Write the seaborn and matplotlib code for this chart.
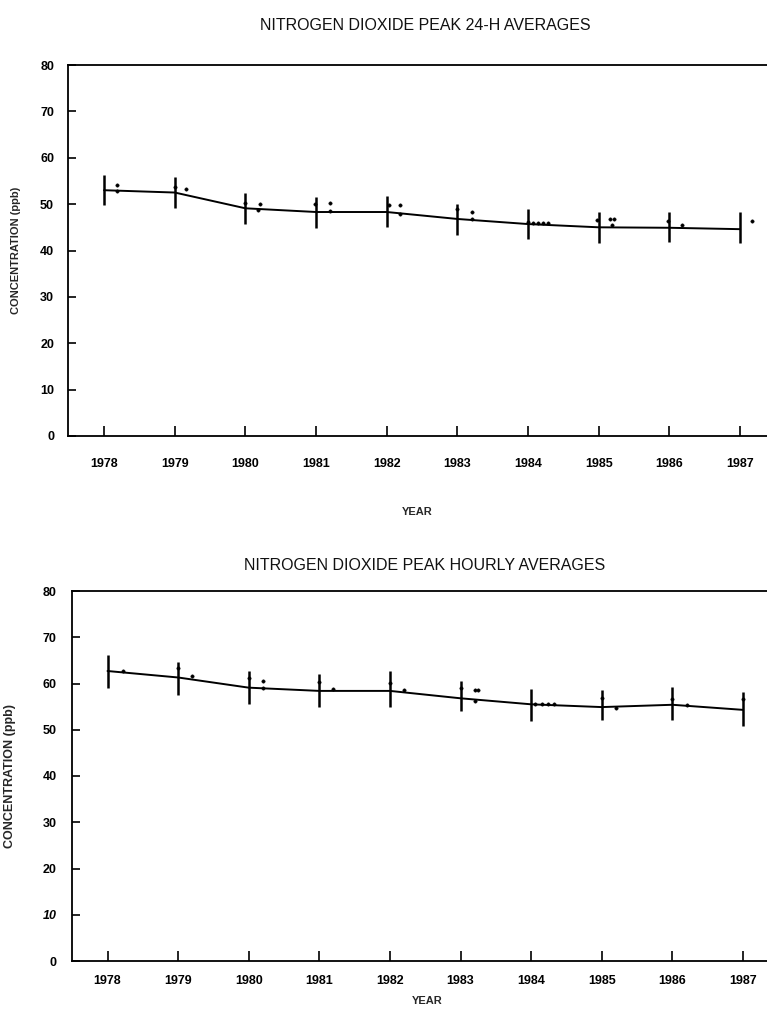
import matplotlib
matplotlib.use("Agg")
import matplotlib.pyplot as plt
import seaborn as sns
import pandas as pd

# ---------------- data ----------------
years = [1978, 1979, 1980, 1981, 1982, 1983, 1984, 1985, 1986, 1987]
year_labels = [str(y) for y in years]
y_ticks = [0, 10, 20, 30, 40, 50, 60, 70, 80]

# Peak 24-h averages
trend_24h = [53.0, 52.5, 49.1, 48.3, 48.3, 46.8, 45.7, 45.0, 44.9, 44.6]
low_24h = [49.8, 49.1, 45.7, 44.8, 45.0, 43.3, 42.4, 41.7, 41.9, 41.6]
high_24h = [56.3, 55.9, 52.3, 51.5, 51.7, 50.0, 48.9, 48.2, 48.4, 48.2]
pts_24h_x = [1978.18, 1978.18, 1979.0, 1979.16, 1980.0, 1980.2, 1980.18,
             1980.98, 1981.2, 1981.2, 1982.03, 1982.19, 1982.19,
             1983.0, 1983.2, 1983.2, 1984.0, 1984.07, 1984.14, 1984.21, 1984.28,
             1984.98, 1985.16, 1985.21, 1985.18, 1985.98, 1986.18, 1987.17]
pts_24h_y = [54.1, 52.9, 53.8, 53.2, 50.3, 50.0, 48.7,
             50.0, 50.2, 48.6, 49.8, 49.8, 47.9,
             48.9, 48.2, 46.9, 46.2, 45.9, 45.9, 45.9, 45.9,
             46.6, 46.8, 46.8, 45.5, 46.4, 45.5, 46.4]

# Peak hourly averages
trend_1h = [62.7, 61.3, 59.1, 58.4, 58.4, 56.8, 55.5, 54.9, 55.4, 54.3]
low_1h = [59.0, 57.5, 55.5, 55.0, 55.0, 54.0, 51.8, 52.1, 52.1, 50.9]
high_1h = [66.2, 64.7, 62.6, 62.1, 62.6, 60.6, 58.9, 58.7, 59.2, 58.1]
pts_1h_x = [1978.22, 1979.0, 1979.2, 1980.0, 1980.2, 1980.2, 1981.0, 1981.2,
            1982.0, 1982.2, 1983.0, 1983.2, 1983.25, 1983.2,
            1984.05, 1984.15, 1984.24, 1984.33, 1985.0, 1985.2,
            1986.0, 1986.2, 1987.0]
pts_1h_y = [62.7, 63.3, 61.6, 61.1, 60.6, 59.1, 60.3, 58.8,
            60.2, 58.7, 59.0, 58.6, 58.6, 56.3,
            55.6, 55.6, 55.6, 55.6, 56.9, 54.6,
            56.6, 55.3, 56.6]

titles = ["NITROGEN DIOXIDE PEAK 24-H AVERAGES",
          "NITROGEN DIOXIDE PEAK HOURLY AVERAGES"]

# ---------------- style ----------------
sns.set_theme(style="white")
plt.rcParams["font.family"] = ["Liberation Sans", "DejaVu Sans"]

fig = plt.figure(figsize=(7.67, 10.18), dpi=100)

panels = [
    dict(rect=[68 / 767, 582 / 1018, 699 / 767, 371 / 1018], xlim=(1977.49, 1987.38),
         trend=trend_24h, low=low_24h, high=high_24h, px=pts_24h_x, py=pts_24h_y,
         title=titles[0], title_xy=(425 / 767, 1 - 25 / 1018),
         year_xy=(417 / 767, 1 - 512 / 1018), ylab_x=16 / 767, ylab_fs=8,
         xpad=16, ypad=10),
    dict(rect=[72 / 767, 57 / 1018, 695 / 767, 370 / 1018], xlim=(1977.497, 1987.34),
         trend=trend_1h, low=low_1h, high=high_1h, px=pts_1h_x, py=pts_1h_y,
         title=titles[1], title_xy=(425 / 767, 1 - 565 / 1018),
         year_xy=(427 / 767, 1 - 1001 / 1018), ylab_x=10 / 767, ylab_fs=9,
         xpad=10, ypad=11),
]

for i, p in enumerate(panels):
    ax = fig.add_axes(p["rect"])
    df = pd.DataFrame({"year": years, "value": p["trend"]})
    sns.lineplot(data=df, x="year", y="value", ax=ax, color="black", linewidth=1.4)
    ax.vlines(years, p["low"], p["high"], colors="black", linewidth=1.8)
    dpts = pd.DataFrame({"x": p["px"], "y": p["py"]})
    sns.scatterplot(data=dpts, x="x", y="y", ax=ax, color="black", s=6,
                    marker="o", edgecolor="black", linewidth=0.3)

    ax.set_xlim(*p["xlim"])
    ax.set_ylim(0, 80)
    ax.set_xticks(years)
    ax.set_xticklabels(year_labels, fontsize=9, fontweight="bold")
    ax.set_yticks(y_ticks)
    ax.set_yticklabels([str(t) for t in y_ticks], fontsize=9, fontweight="bold")
    ax.tick_params(axis="x", direction="in", length=7, width=1.2, pad=p["xpad"],
                   bottom=True, colors="black")
    ax.tick_params(axis="y", direction="in", length=6, width=1.2, pad=p["ypad"],
                   left=True, colors="black")
    ax.set_xlabel("")
    ax.set_ylabel("")
    for side in ["left", "bottom", "top"]:
        ax.spines[side].set_visible(True)
        ax.spines[side].set_color("black")
        ax.spines[side].set_linewidth(1.3)
    ax.spines["right"].set_visible(False)

    if i == 1:
        ax.get_yticklabels()[1].set_style("italic")

    fig.text(p["title_xy"][0], p["title_xy"][1], p["title"], ha="center",
             va="center", fontsize=11.5, color="#111111")
    fig.text(p["year_xy"][0], p["year_xy"][1], "YEAR", ha="center",
             va="center", fontsize=8, fontweight="bold")
    cy = p["rect"][1] + p["rect"][3] * 0.5
    fig.text(p["ylab_x"], cy, "CONCENTRATION (ppb)", rotation=90, ha="center",
             va="center", fontsize=p["ylab_fs"], fontweight="bold")

fig.savefig("out.png", dpi=100, facecolor="white")
